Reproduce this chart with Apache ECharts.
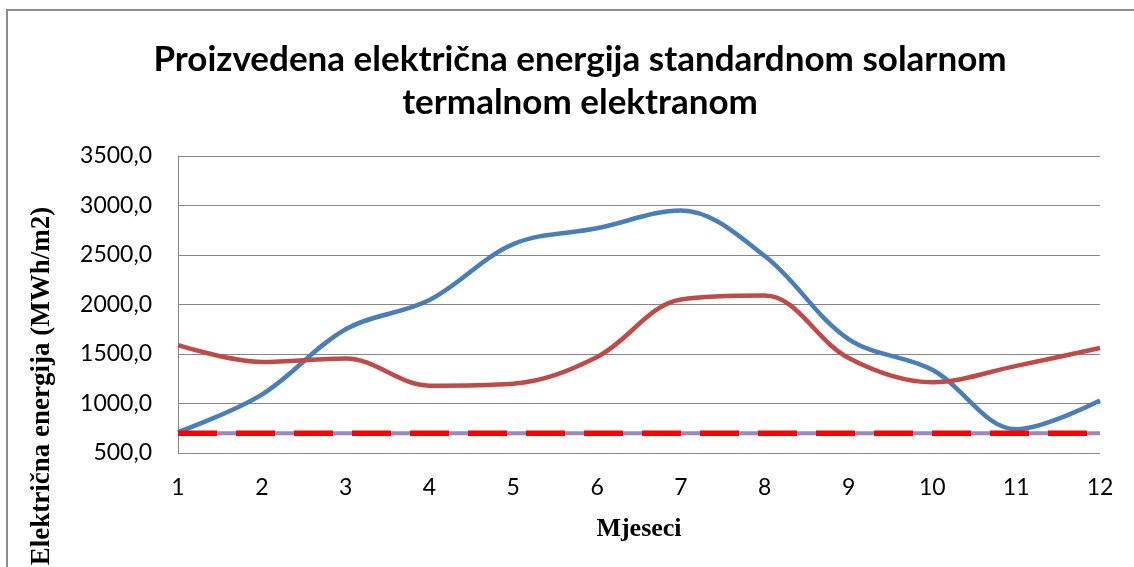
<!DOCTYPE html>
<html><head><meta charset="utf-8">
<script src="https://cdn.jsdelivr.net/npm/echarts@6/dist/echarts.min.js"></script>
<style>html,body{margin:0;padding:0;background:#fff}#c{width:1134px;height:567px}</style>
</head><body><div id="c"></div>
<script>
const months = ['1','2','3','4','5','6','7','8','9','10','11','12'];
const seriesBlue = [710, 1090, 1750, 2045, 2610, 2770, 2950, 2490, 1650, 1340, 740, 1030];
const seriesRed = [1590, 1420, 1455, 1180, 1200, 1470, 2050, 2090, 1460, 1215, 1380, 1560];
const seriesPurple = [700, 700, 700, 700, 700, 700, 700, 700, 700, 700, 700, 700];
const seriesBrightRed = [700, 700, 700, 700, 700, 700, 700, 700, 700, 700, 700, 700];
const yTicks = {min: 500, max: 3500, interval: 500};
const titleText = 'Proizvedena električna energija standardnom solarnom\ntermalnom elektranom';
const xName = 'Mjeseci';
const yName = 'Električna energija (MWh/m2)';

const chart = echarts.init(document.getElementById('c'), null, {renderer: 'canvas'});
chart.setOption({
  animation: false,
  backgroundColor: '#fff',
  title: {
    text: titleText, left: 575, top: 33, textAlign: 'center',
    textStyle: {fontFamily: 'Lato', fontWeight: 'bold', fontSize: 35, color: '#000', lineHeight: 43}
  },
  grid: {left: 178, right: 34, top: 156, bottom: 114},
  xAxis: {
    type: 'category', data: months, boundaryGap: false,
    axisLine: {show: false}, axisTick: {show: false},
    axisLabel: {fontFamily: 'Lato', fontSize: 23, color: '#000', margin: 23},
    splitLine: {show: false},
    name: xName, nameLocation: 'middle', nameGap: 63,
    nameTextStyle: {fontFamily: 'Liberation Serif', fontWeight: 'bold', fontSize: 26, color: '#000'}
  },
  yAxis: {
    type: 'value', min: yTicks.min, max: yTicks.max, interval: yTicks.interval,
    axisLine: {show: true, lineStyle: {color: '#868686', width: 1}},
    axisTick: {show: false},
    axisLabel: {fontFamily: 'Lato', fontSize: 23, color: '#000', margin: 26,
      formatter: v => v.toFixed(1).replace('.', ',')},
    splitLine: {show: true, lineStyle: {color: '#868686', width: 1}}
  },
  graphic: [
    {type: 'rect', shape: {x: 7, y: 10, width: 1150, height: 600}, style: {fill: null, stroke: '#8c8c8c', lineWidth: 2}, silent: true, z: 100},
    {type: 'text', x: 42, y: 386, rotation: Math.PI / 2,
      style: {text: yName, fontFamily: 'Liberation Serif', fontWeight: 'bold', fontSize: 27, fill: '#000', align: 'center', verticalAlign: 'middle'}}
  ],
  series: [
    {type: 'line', data: seriesBlue, smooth: 0.35, symbol: 'none', lineStyle: {color: '#4A7EBB', width: 4.5}, z: 3},
    {type: 'line', data: seriesRed, smooth: 0.35, symbol: 'none', lineStyle: {color: '#BE4B48', width: 4.5}, z: 3},
    {type: 'line', data: seriesPurple, symbol: 'none', lineStyle: {color: '#9B88C0', width: 4}, z: 4},
    {type: 'line', data: seriesBrightRed, symbol: 'none', lineStyle: {color: '#FF0000', width: 5.5, type: [39, 19]}, z: 5}
  ]
});
</script></body></html>
